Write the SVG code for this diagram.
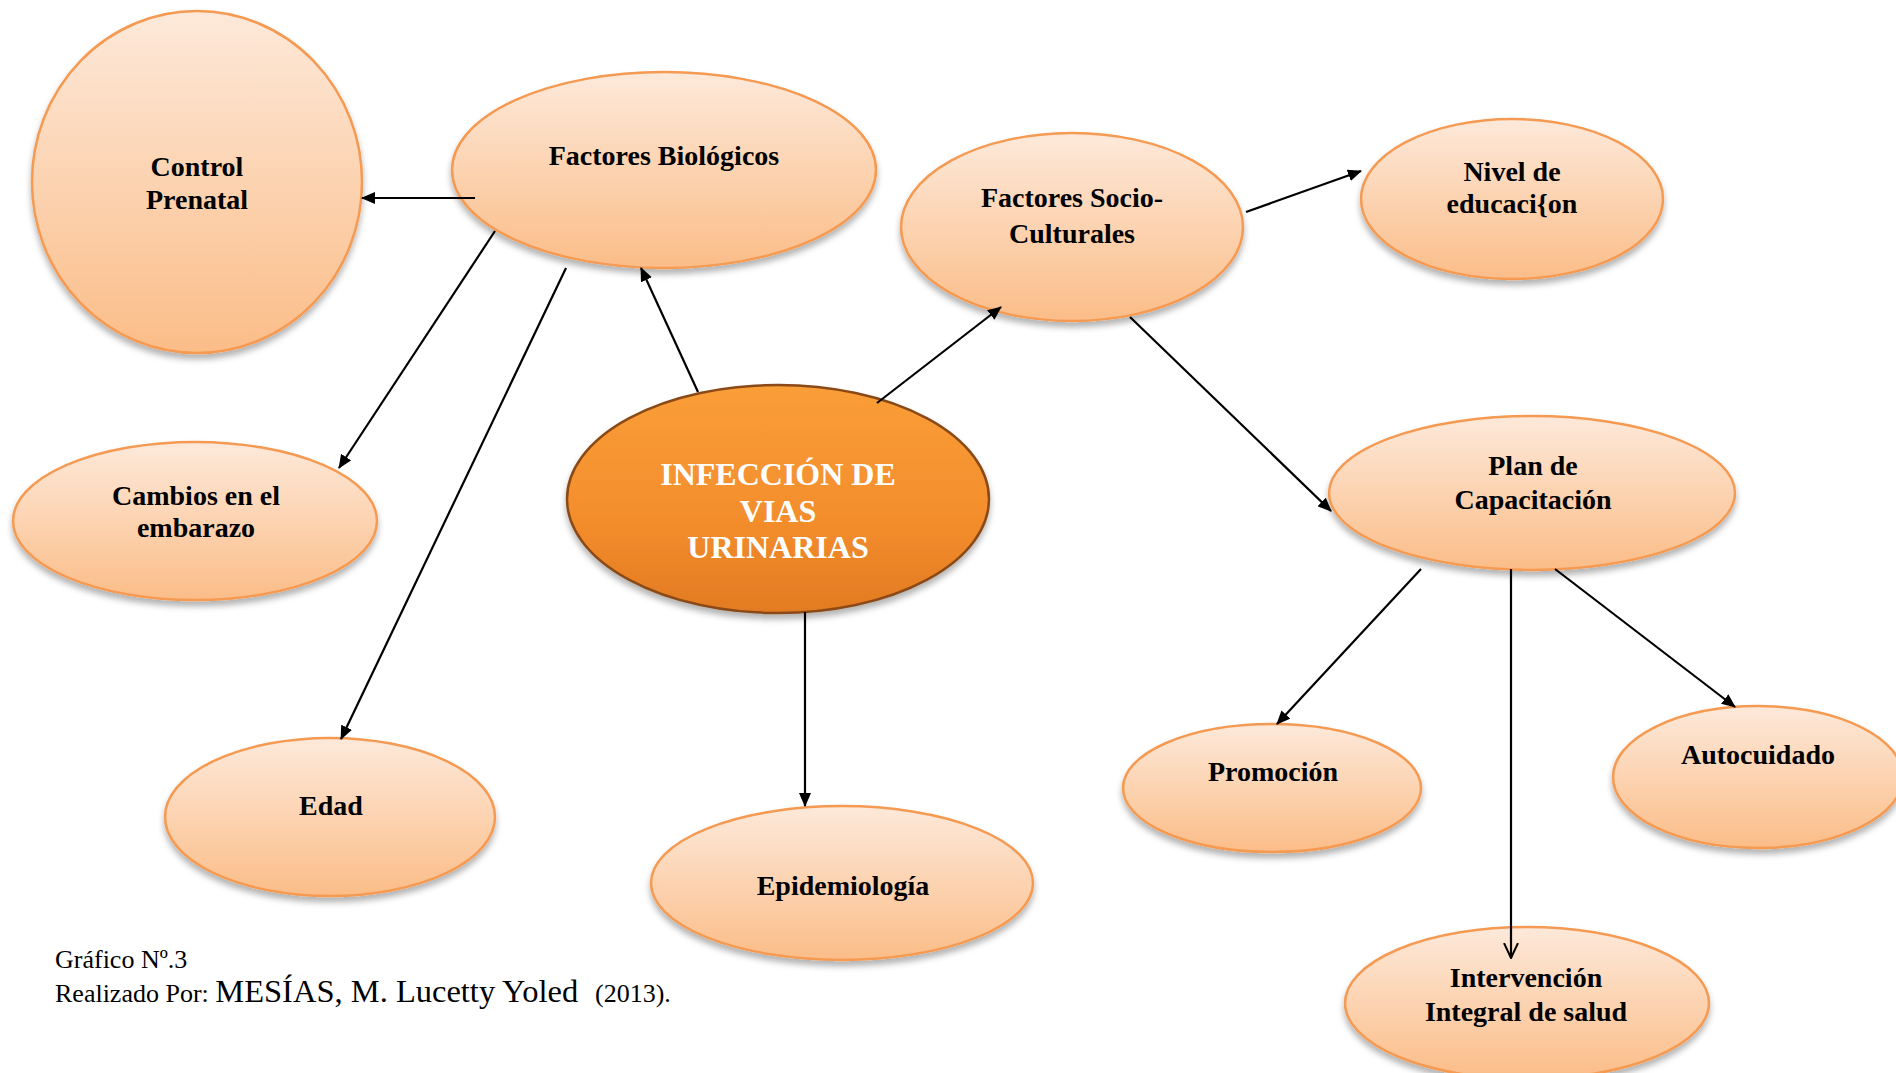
<svg xmlns="http://www.w3.org/2000/svg" width="1896" height="1073" viewBox="0 0 1896 1073">
<defs>
<linearGradient id="lg" x1="0" y1="0" x2="0" y2="1">
<stop offset="0" stop-color="#fde9da"/>
<stop offset="1" stop-color="#fbbd88"/>
</linearGradient>
<linearGradient id="mg" x1="0" y1="0" x2="0" y2="1">
<stop offset="0" stop-color="#fa9e38"/>
<stop offset="0.6" stop-color="#f38d2c"/>
<stop offset="1" stop-color="#e27a22"/>
</linearGradient>
<filter id="sh" x="-10%" y="-10%" width="120%" height="130%">
<feDropShadow dx="0" dy="5" stdDeviation="3" flood-color="#000" flood-opacity="0.3"/>
</filter>
<marker id="ah" markerWidth="14" markerHeight="12" refX="13" refY="6" orient="auto" markerUnits="userSpaceOnUse">
<path d="M0,0 L14,6 L0,12 Z" fill="#000"/>
</marker>
<marker id="av" markerWidth="16" markerHeight="16" refX="15" refY="8" orient="auto" markerUnits="userSpaceOnUse">
<path d="M0,1 L15,8 L0,15" fill="none" stroke="#000" stroke-width="2"/>
</marker>
<style>
.n{fill:url(#lg);stroke:#f59a52;stroke-width:2.5;filter:url(#sh)}
.m{fill:url(#mg);stroke:#8a4a16;stroke-width:2.5;filter:url(#sh)}
.t{font-family:"Liberation Serif","Times New Roman",serif;font-weight:bold;font-size:28px;fill:#000;text-anchor:middle}
.tm{font-family:"Liberation Serif","Times New Roman",serif;font-weight:bold;font-size:32px;fill:#fff;text-anchor:middle}
.c line{stroke:#000;stroke-width:2.2;marker-end:url(#ah)}
.f{font-family:"Liberation Serif","Times New Roman",serif;fill:#000}
</style>
</defs>
<rect width="1896" height="1073" fill="#fff"/>

<g id="node-control-prenatal">
<ellipse class="n" cx="197" cy="182" rx="165" ry="171"/>
<text class="t" x="197" y="176">Control</text>
<text class="t" x="197" y="209">Prenatal</text>
</g>
<g id="node-factores-biologicos">
<ellipse class="n" cx="664" cy="170" rx="212" ry="98"/>
<text class="t" x="664" y="165">Factores Biológicos</text>
</g>
<g id="node-factores-socio">
<ellipse class="n" cx="1072" cy="227" rx="171" ry="94"/>
<text class="t" x="1072" y="207">Factores Socio-</text>
<text class="t" x="1072" y="243">Culturales</text>
</g>
<g id="node-nivel">
<ellipse class="n" cx="1512" cy="199" rx="151" ry="80"/>
<text class="t" x="1512" y="181">Nivel de</text>
<text class="t" x="1512" y="213">educaci{on</text>
</g>
<g id="node-cambios">
<ellipse class="n" cx="195" cy="521" rx="182" ry="79"/>
<text class="t" x="196" y="505">Cambios en el</text>
<text class="t" x="196" y="537">embarazo</text>
</g>
<g id="node-infeccion">
<ellipse class="m" cx="778" cy="499" rx="211" ry="114"/>
<text class="tm" x="778" y="485">INFECCIÓN DE</text>
<text class="tm" x="778" y="522">VIAS</text>
<text class="tm" x="778" y="558">URINARIAS</text>
</g>
<g id="node-plan">
<ellipse class="n" cx="1532" cy="493" rx="203" ry="77"/>
<text class="t" x="1533" y="475">Plan de</text>
<text class="t" x="1533" y="509">Capacitación</text>
</g>
<g id="node-edad">
<ellipse class="n" cx="330" cy="817" rx="165" ry="79"/>
<text class="t" x="331" y="815">Edad</text>
</g>
<g id="node-epidemiologia">
<ellipse class="n" cx="842" cy="883" rx="191" ry="77"/>
<text class="t" x="843" y="895">Epidemiología</text>
</g>
<g id="node-promocion">
<ellipse class="n" cx="1272" cy="788" rx="149" ry="64"/>
<text class="t" x="1273" y="781">Promoción</text>
</g>
<g id="node-autocuidado">
<ellipse class="n" cx="1758" cy="777" rx="145" ry="71"/>
<text class="t" x="1758" y="764">Autocuidado</text>
</g>
<g id="node-intervencion">
<ellipse class="n" cx="1527" cy="1003" rx="182" ry="76"/>
<text class="t" x="1526" y="987">Intervención</text>
<text class="t" x="1526" y="1021">Integral de salud</text>
</g>

<g id="connectors" class="c">
<line x1="475" y1="198" x2="362" y2="198"/>
<line x1="495" y1="231" x2="339" y2="468"/>
<line x1="566" y1="268" x2="341" y2="739"/>
<line x1="698" y1="392" x2="641" y2="268"/>
<line x1="877" y1="403" x2="1001" y2="307"/>
<line x1="1246" y1="212" x2="1361" y2="171"/>
<line x1="1130" y1="317" x2="1331" y2="511"/>
<line x1="805" y1="612" x2="805" y2="806"/>
<line x1="1421" y1="569" x2="1277" y2="724"/>
<line x1="1555" y1="569" x2="1735" y2="707"/>
<line x1="1511" y1="569" x2="1511" y2="958" style="marker-end:url(#av)"/>
</g>

<g id="footer">
<text class="f" x="55" y="968" font-size="26">Gráfico Nº.3</text>
<text class="f" x="55" y="1002" font-size="26">Realizado Por: <tspan font-size="32.5">MESÍAS, M. Lucetty Yoled</tspan><tspan x="595" font-size="26">(2013).</tspan></text>
</g>
</svg>
